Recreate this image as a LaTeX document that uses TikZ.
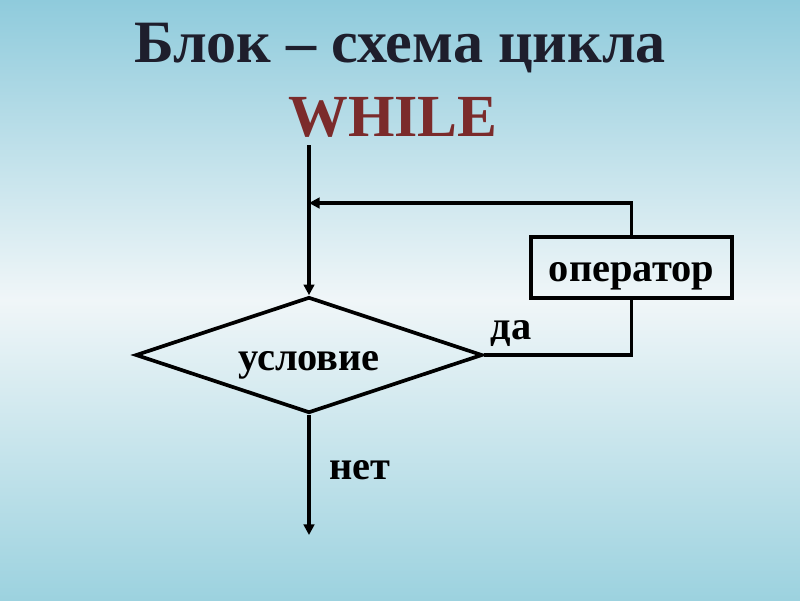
\documentclass[tikz,border=0pt]{standalone}
\usepackage{fontspec}
\setmainfont{Liberation Serif}
\usetikzlibrary{arrows.meta,shapes.geometric}
\definecolor{skytop}{HTML}{8FCBDC}
\definecolor{skymid}{HTML}{F0F6F8}
\definecolor{skybot}{HTML}{9CD2DF}
\definecolor{titleink}{HTML}{1E1E2C}
\definecolor{whileink}{HTML}{7B2B2B}
\tikzset{
  line/.style={line width=2.1pt},
  arr/.style={line, -{Triangle[length=6pt,width=6pt]}},
  label/.style={font=\bfseries\fontsize{23}{27}\selectfont, text depth=0pt},
}
\begin{document}
\begin{tikzpicture}[x=0.02cm,y=-0.02cm]
  % background
  \shade[top color=skytop, bottom color=skybot, middle color=skymid] (0,0) rectangle (800,600);
  \useasboundingbox (0,0) rectangle (800,600);
  % title
  \node[text=titleink, font=\bfseries\fontsize{34.2}{38}\selectfont] (title) at (400,48) {Блок – схема цикла};
  \node[text=whileink, font=\bfseries\fontsize{34}{38}\selectfont] (while) at (393,117) {WHILE};
  % blocks
  \node[diamond, draw, line, aspect=3, inner sep=0pt, minimum width=6.94cm, minimum height=2.32cm,
        label, text height=17.3pt] (cond) at (309,355) {условие};
  \node[rectangle, draw, line, minimum width=4.02cm, minimum height=1.22cm,
        label, text height=15.6pt] (op) at (631.5,267.5) {оператор};
  \node[label] (yes) at (511,330) {да};
  \node[label] (no) at (360,470) {нет};
  % connectors
  \coordinate (start) at (309,145);
  \coordinate (loop) at (309,203);
  \coordinate (end) at (309,535);
  \draw[arr] (start) -- (cond.north);
  \draw[line] (cond.east) -| (op.south);
  \draw[arr] (op.north) |- (loop);
  \draw[arr] (cond.south) -- (end);
\end{tikzpicture}
\end{document}
